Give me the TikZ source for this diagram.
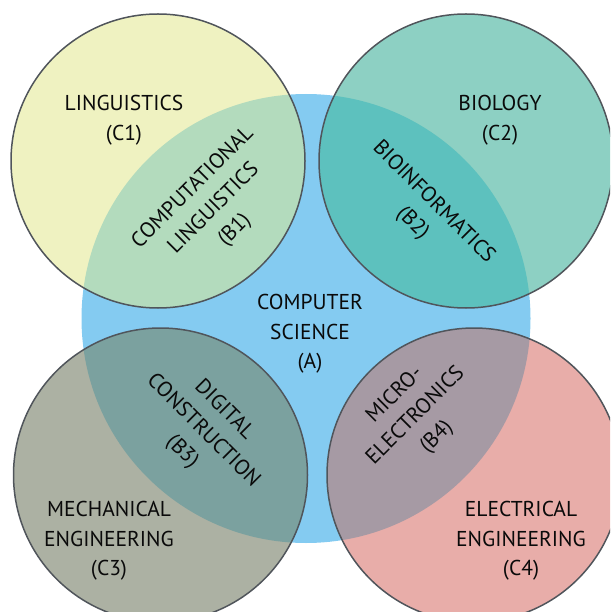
\documentclass[tikz,border=0pt]{standalone}
\usepackage{fontspec}
\setmainfont{PT Sans}
\definecolor{cblue}{HTML}{84CBF1}
\definecolor{cyel}{HTML}{EFF2C1}
\definecolor{cyelb}{HTML}{B3DBBD}
\definecolor{cteal}{HTML}{8DD0C3}
\definecolor{ctealb}{HTML}{5DC1BE}
\definecolor{colive}{HTML}{ACB1A3}
\definecolor{coliveb}{HTML}{7BA19F}
\definecolor{cpink}{HTML}{E8ADA9}
\definecolor{cpinkb}{HTML}{A69AA4}
\definecolor{coutl}{HTML}{50555B}
\definecolor{ctext}{HTML}{0A0A0A}
\begin{document}
\begin{tikzpicture}[x=1pt,y=-1pt,
  lbl/.style={align=center, text=ctext, inner sep=0pt, font=\fontsize{21.5}{29.5}\selectfont},
  outl/.style={draw=coutl, line width=1.5pt}]
\useasboundingbox (0,0) rectangle (610,612);
\clip (0,0) rectangle (610,612);
\coordinate (A) at (306,318.5);
\coordinate (C1) at (158,161);
\coordinate (C2) at (466,161);
\coordinate (C3) at (160.5,475);
\coordinate (C4) at (474,475);
\def\rbig{224.5}
\def\rsm{147}
\fill[cblue] (A) circle (\rbig);
% small circles with overlaps
\fill[cyel] (C1) circle (\rsm);
\begin{scope}\clip (C1) circle (\rsm); \fill[cyelb] (A) circle (\rbig);\end{scope}
\fill[cteal] (C2) circle (\rsm);
\begin{scope}\clip (C2) circle (\rsm); \fill[ctealb] (A) circle (\rbig);\end{scope}
\fill[colive] (C3) circle (\rsm);
\begin{scope}\clip (C3) circle (\rsm); \fill[coliveb] (A) circle (\rbig);\end{scope}
\fill[cpink] (C4) circle (\rsm);
\begin{scope}\clip (C4) circle (\rsm); \fill[cpinkb] (A) circle (\rbig);\end{scope}
\draw[outl] (C1) circle (\rsm);
\draw[outl] (C2) circle (\rsm);
\draw[outl] (C3) circle (\rsm);
\draw[outl] (C4) circle (\rsm);
% labels
\node[lbl] (tA) at (310,334) {COMPUTER\\SCIENCE\\(A)};
\node[lbl] (tC1) at (124,120) {LINGUISTICS\\(C1)};
\node[lbl] (tC2) at (500,120) {BIOLOGY\\(C2)};
\node[lbl] (tC3) at (109,541) {MECHANICAL\\ENGINEERING\\(C3)};
\node[lbl] (tC4) at (521,541) {ELECTRICAL\\ENGINEERING\\(C4)};
\node[lbl, rotate=45] (tB1) at (214,209) {COMPUTATIONAL\\LINGUISTICS\\(B1)};
\node[lbl, rotate=-45] (tB2) at (423,213) {BIOINFORMATICS\\(B2)};
\node[lbl, rotate=-45] (tB3) at (203,431) {DIGITAL\\CONSTRUCTION\\(B3)};
\node[lbl, rotate=45] (tB4) at (416,416) {MICRO-\\ELECTRONICS\\(B4)};
\end{tikzpicture}
\end{document}
